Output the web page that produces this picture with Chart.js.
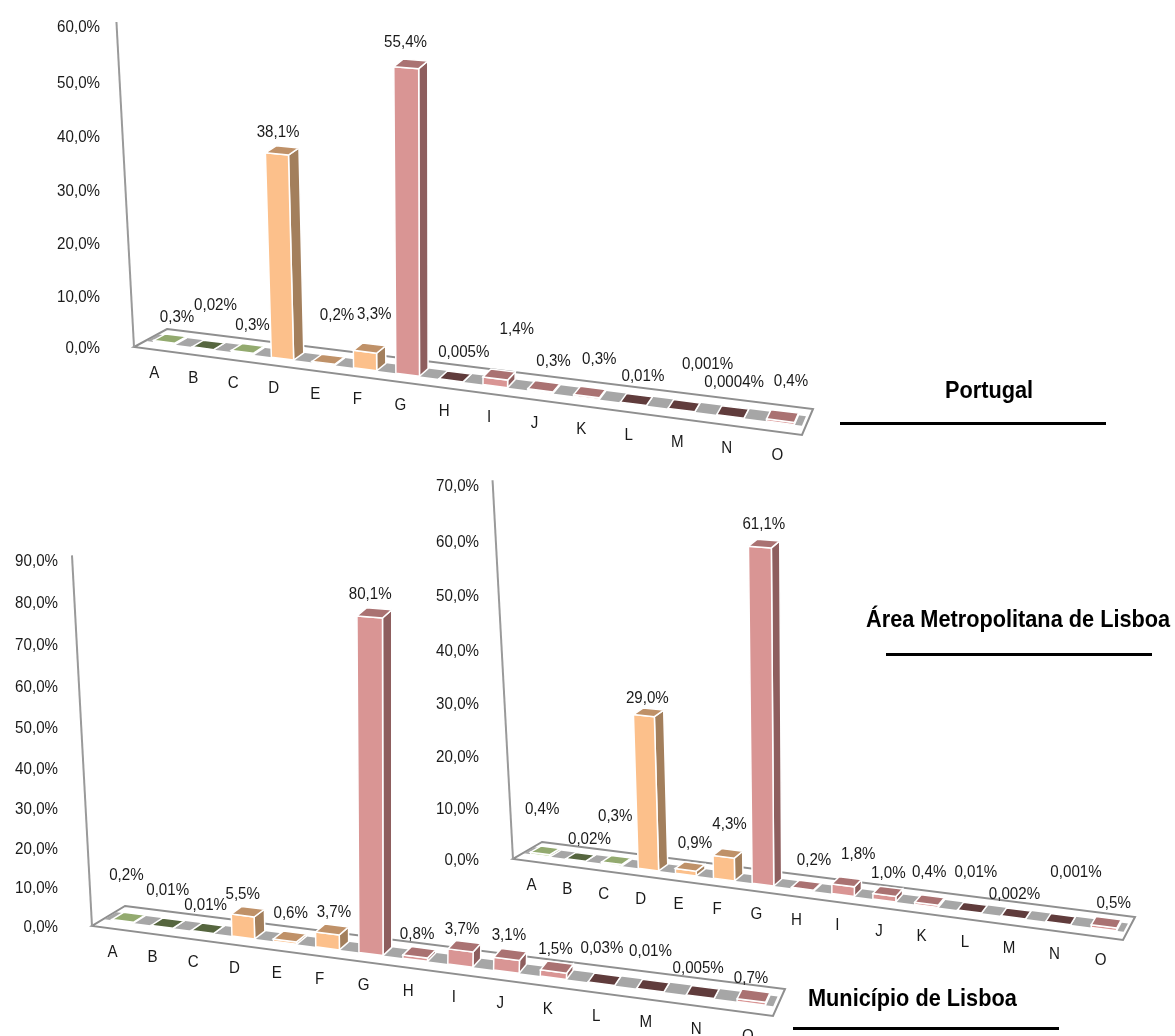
<!DOCTYPE html>
<html>
<head>
<meta charset="utf-8">
<title>Portugal, AML, Lisboa</title>
<script src="https://cdn.jsdelivr.net/npm/chart.js@4"></script>
<style>
  html, body { margin: 0; background: #fff; overflow: hidden; }
  #page { position: relative; width: 1175px; height: 1036px; overflow: hidden; }
  canvas { position: absolute; left: 0; top: 0; }
  .title { position: absolute; font: bold 24px "Liberation Sans", Arial, sans-serif; color: #000; white-space: nowrap; transform: scaleX(0.905); transform-origin: left top; }
  .rule { position: absolute; width: 266px; height: 3px; background: #000; }
</style>
</head>
<body>
<div id="page">
  <canvas id="portugal" width="1175" height="1036"></canvas>
  <canvas id="aml" width="1175" height="1036"></canvas>
  <canvas id="lisboa" width="1175" height="1036"></canvas>
  <div class="title" style="left:945px; top:376px;">Portugal</div>
  <div class="rule" style="left:840px; top:422px;"></div>
  <div class="title" style="left:866px; top:605px;">Área Metropolitana de Lisboa</div>
  <div class="rule" style="left:886px; top:653px;"></div>
  <div class="title" style="left:808px; top:984px;">Município de Lisboa</div>
  <div class="rule" style="left:793px; top:1027px;"></div>
</div>
<script>
const categories = ['A', 'B', 'C', 'D', 'E', 'F', 'G', 'H', 'I', 'J', 'K', 'L', 'M', 'N', 'O'];

const portugalValues = [0.3, 0.02, 0.3, 38.1, 0.2, 3.3, 55.4, 0.005, 1.4, 0.3, 0.3, 0.01, 0.001, 0.0004, 0.4];
const amlValues = [0.4, 0.02, 0.3, 29.0, 0.9, 4.3, 61.1, 0.2, 1.8, 1.0, 0.4, 0.01, 0.002, 0.001, 0.5];
const lisboaValues = [0.2, 0.01, 0.01, 5.5, 0.6, 3.7, 80.1, 0.8, 3.7, 3.1, 1.5, 0.03, 0.01, 0.005, 0.7];

// value label nudges in px from the top of each bar
const portugalShift = [[6,-22],[6,-40],[4,-24],[-5,-19],[8,-45],[4,-35],[-6,-22],[8,-25],[17,-46],[9,-26],[9,-33],[6,-24],[23,-42],[1,-30],[8,-35]];
const amlShift = [[-4,-42],[8,-19],[-2,-45],[-2,-15],[4,-24],[1,-30],[-1,-20],[7,-26],[11,-28],[0,-19],[-1,-29],[3,-36],[-2,-20],[15,-48],[7,-20]];
const lisboaShift = [[-3,-43],[-1,-34],[-3,-24],[-6,-18],[0,-24],[1,-18],[-5,-19],[-3,-19],[-3,-18],[-2,-20],[-2,-19],[-3,-32],[-3,-35],[-5,-24],[-3,-18]];

const GREEN = { front: '#b4cc8a', side: '#7d8f5c', top: '#93aa6f', flat: '#56663f' };
const PEACH = { front: '#fcc08b', side: '#a37f5c', top: '#bf9168', flat: '#bf9168' };
const ROSE = { front: '#d99594', side: '#8e5e5e', top: '#aa7272', flat: '#603c3c' };
const barColors = [GREEN, GREEN, GREEN, PEACH, PEACH, PEACH, ROSE, ROSE, ROSE, ROSE, ROSE, ROSE, ROSE, ROSE, ROSE];

// how the flat chart area is laid onto the slanted floor
const BOW = 1.16;
const WARP = 0.045;
const LEAN = 0.00018;
const DEPTH_BACK = 0.3, DEPTH_FRONT = 0.66;

const lerp = (a, b, t) => a + (b - a) * t;

function project(g, u, d, h, grow) {
  const p = u / (BOW - (BOW - 1) * u);
  const x0 = lerp(lerp(g.backLeft[0], g.backRight[0], p), lerp(g.frontLeft[0], g.frontRight[0], p), d);
  const y0 = lerp(lerp(g.backLeft[1], g.backRight[1], p), lerp(g.frontLeft[1], g.frontRight[1], p), d);
  const lift = g.axisHeight * (h - WARP * h * (1 - h)) * (1 + grow * p);
  return [x0 + (x0 - g.frontLeft[0] - 300) * LEAN * lift, y0 - lift];
}

function poly(ctx, pts, fill, stroke, lineWidth) {
  ctx.beginPath();
  pts.forEach((pt, i) => i ? ctx.lineTo(pt[0], pt[1]) : ctx.moveTo(pt[0], pt[1]));
  ctx.closePath();
  if (fill) { ctx.fillStyle = fill; ctx.fill(); }
  if (stroke) { ctx.strokeStyle = stroke; ctx.lineWidth = lineWidth; ctx.stroke(); }
}

// Liberation Sans squeezed a little, the labels run narrow
function label(ctx, text, x, y, align) {
  ctx.save();
  ctx.translate(x, y + 1.5);
  ctx.scale(0.89, 1);
  ctx.font = '17px "Liberation Sans", Arial, sans-serif';
  ctx.fillStyle = '#1a1a1a';
  ctx.textAlign = align || 'center';
  ctx.textBaseline = 'middle';
  ctx.fillText(text, 0, 0);
  ctx.restore();
}

const valueText = v => (v >= 0.1 ? v.toFixed(1) : String(v)).replace('.', ',') + '%';

class Bar3dController extends Chart.BarController {
  draw() {
    const chart = this.chart, ctx = chart.ctx, area = chart.chartArea;
    const g = this.getDataset().geometry;
    const xs = chart.scales.x, ys = chart.scales.y;
    const toU = px => (px - area.left) / (area.right - area.left);
    const toH = py => (area.bottom - py) / (area.bottom - area.top);
    const at = (u, d, h) => project(g, u, d, h, 0.1);

    // floor
    poly(ctx, [g.backLeft, g.backRight, g.frontRight, g.frontLeft], '#fff', '#8f8f8f', 2);
    poly(ctx, [at(0.002, DEPTH_BACK, 0), at(0.995, DEPTH_BACK, 0), at(0.995, DEPTH_FRONT, 0), at(0.002, DEPTH_FRONT, 0)], '#a6a6a6');

    // value axis
    const axisTop = project(g, 0, 1, 1.012, 0);
    ctx.beginPath();
    ctx.moveTo(g.frontLeft[0], g.frontLeft[1]);
    ctx.lineTo(axisTop[0], axisTop[1]);
    ctx.strokeStyle = '#9a9a9a';
    ctx.lineWidth = 2;
    ctx.stroke();

    ys.ticks.forEach(t => {
      const y = project(g, 0, 1, toH(ys.getPixelForValue(t.value)), 0)[1];
      label(ctx, t.label, g.frontLeft[0] - 34, y, 'right');
    });

    // bars, left to right
    this.getMeta().data.forEach((bar, i) => {
      const value = this.getDataset().data[i];
      const c = barColors[i];
      const uL = toU(bar.x - bar.width / 2), uR = toU(bar.x + bar.width / 2);
      const h = toH(bar.y);
      poly(ctx, [at(uR, DEPTH_FRONT, 0), at(uR, DEPTH_BACK, 0), at(uR, DEPTH_BACK, h), at(uR, DEPTH_FRONT, h)], c.side, '#fff', 1.5);
      poly(ctx, [at(uL, DEPTH_FRONT, 0), at(uR, DEPTH_FRONT, 0), at(uR, DEPTH_FRONT, h), at(uL, DEPTH_FRONT, h)], c.front, '#fff', 1.5);
      poly(ctx, [at(uL, DEPTH_FRONT, h), at(uR, DEPTH_FRONT, h), at(uR, DEPTH_BACK, h), at(uL, DEPTH_BACK, h)], value < 0.1 ? c.flat : c.top, '#fff', 1.5);

      const top = at(toU(bar.x), 0.45, h);
      const shift = g.shift[i];
      label(ctx, valueText(value), top[0] + shift[0], top[1] + shift[1]);

      const foot = project(g, toU(xs.getPixelForValue(i)), 1, 0, 0);
      label(ctx, xs.getLabelForValue(i), foot[0] + 1, foot[1] + 22);
    });
  }
}
Bar3dController.id = 'bar3d';
Bar3dController.defaults = Chart.BarController.defaults;
Bar3dController.overrides = Chart.BarController.overrides;
Chart.register(Bar3dController);

function panel(id, values, shift, max, corners) {
  const g = Object.assign({ shift }, corners);
  new Chart(document.getElementById(id), {
    type: 'bar3d',
    data: {
      labels: categories,
      datasets: [{ data: values, geometry: g, clip: false, barPercentage: 0.55, categoryPercentage: 1 }]
    },
    options: {
      responsive: false,
      animation: false,
      events: [],
      layout: {
        padding: {
          left: g.frontLeft[0],
          right: 1175 - g.frontRight[0],
          top: g.frontLeft[1] - g.axisHeight,
          bottom: 1036 - g.frontLeft[1]
        }
      },
      plugins: { legend: { display: false }, tooltip: { enabled: false } },
      scales: {
        x: { display: false },
        y: {
          display: false,
          min: 0,
          max: max,
          ticks: { stepSize: 10, callback: v => v.toFixed(1).replace('.', ',') + '%' }
        }
      }
    }
  });
}

panel('portugal', portugalValues, portugalShift, 60, {
  backLeft: [167, 329], backRight: [813, 409], frontRight: [802, 435], frontLeft: [134, 347], axisHeight: 321
});
panel('aml', amlValues, amlShift, 70, {
  backLeft: [542, 842], backRight: [1135, 917], frontRight: [1123, 940], frontLeft: [513, 859], axisHeight: 374
});
panel('lisboa', lisboaValues, lisboaShift, 90, {
  backLeft: [125, 906], backRight: [785, 989], frontRight: [773, 1016], frontLeft: [92, 926], axisHeight: 366
});
</script>
</body>
</html>
